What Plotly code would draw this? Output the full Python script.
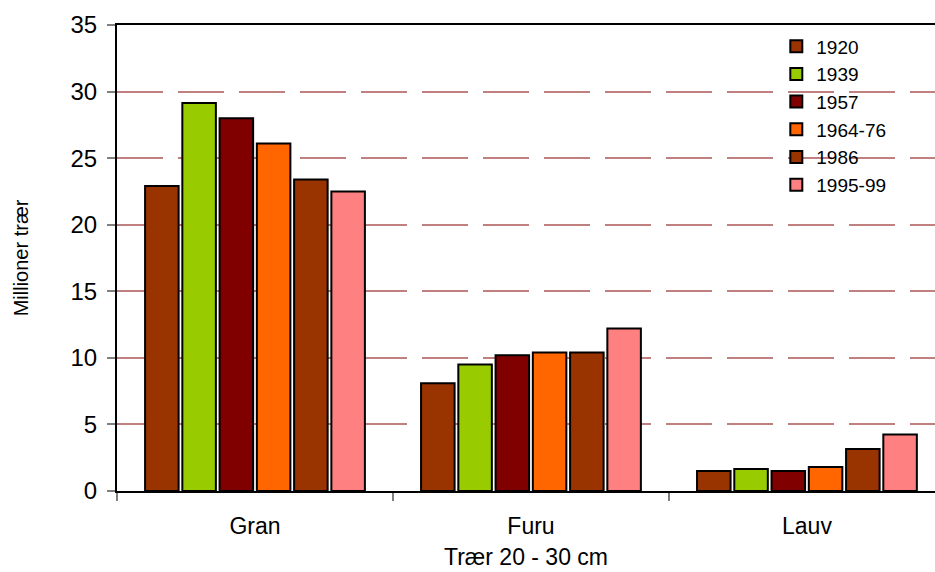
import plotly.graph_objects as go

categories = ["Gran", "Furu", "Lauv"]
series_names = ["1920", "1939", "1957", "1964-76", "1986", "1995-99"]
values_1920 = [22.9, 8.1, 1.5]
values_1939 = [29.15, 9.5, 1.65]
values_1957 = [28.0, 10.2, 1.5]
values_1964_76 = [26.1, 10.4, 1.8]
values_1986 = [23.4, 10.4, 3.15]
values_1995_99 = [22.5, 12.2, 4.25]
series_values = [values_1920, values_1939, values_1957, values_1964_76, values_1986, values_1995_99]
colors = ["#993300", "#99CC00", "#800000", "#FF6600", "#993300", "#FF8080"]
y_ticks = [0, 5, 10, 15, 20, 25, 30, 35]

fig = go.Figure()
for name, vals, col in zip(series_names, series_values, colors):
    fig.add_trace(go.Bar(
        x=categories, y=vals, name=name,
        marker=dict(color=col, line=dict(color="black", width=2)),
    ))

font_family = "Liberation Sans, Arial, sans-serif"
fig.update_layout(
    width=935, height=572,
    margin=dict(l=117, r=0, t=25, b=81),
    paper_bgcolor="white", plot_bgcolor="white",
    barmode="group", bargap=0.19, bargroupgap=0.1,
    font=dict(family=font_family, size=18, color="black"),
    showlegend=True,
    legend=dict(
        x=0.806, y=0.995, xanchor="left", yanchor="top",
        bgcolor="rgba(0,0,0,0)", font=dict(size=19),
        itemwidth=30, tracegroupgap=0,
    ),
    xaxis=dict(
        range=[-0.5, 2.464], showline=True, linecolor="black", linewidth=2,
        mirror=True, ticks="outside", tickson="boundaries", ticklen=8,
        tickcolor="#808080", tickwidth=2, showgrid=False,
        tickfont=dict(size=23), ticklabelstandoff=13, automargin=False,
        title=dict(text="Trær 20 - 30 cm", font=dict(size=23), standoff=11),
    ),
    yaxis=dict(
        range=[0, 35], tickvals=y_ticks, showline=True, linecolor="black",
        linewidth=2, ticks="outside", ticklen=8, tickcolor="#808080",
        tickwidth=2, tickfont=dict(size=24), ticklabelstandoff=5,
        showgrid=True, gridcolor="#C08080", gridwidth=1.5,
        griddash="46px,15px", zeroline=False, automargin=False,
        title=dict(text="Millioner trær", font=dict(size=20), standoff=36),
    ),
)

fig.write_html("out.html")
